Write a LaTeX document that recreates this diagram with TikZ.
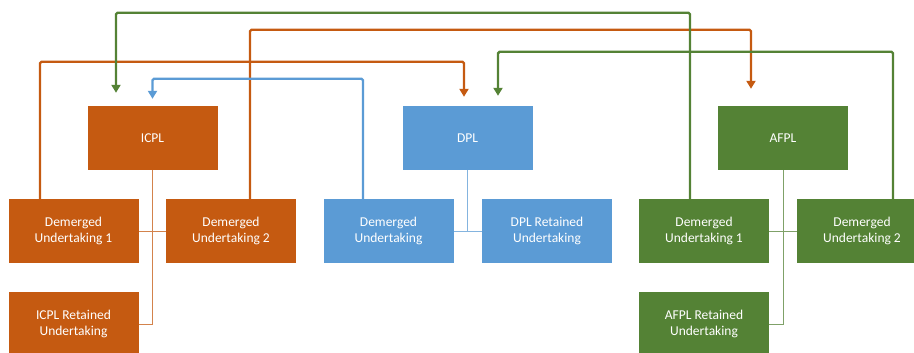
\documentclass[tikz,border=0pt]{standalone}
\usepackage{fontspec}
\setmainfont{Carlito}
\usepackage{tikz}
\usetikzlibrary{positioning,calc,arrows.meta}

\definecolor{icplorange}{HTML}{C55A11}
\definecolor{dplblue}{HTML}{5B9BD5}
\definecolor{afplgreen}{HTML}{548235}

\tikzset{
    unit/.style={rectangle, minimum width=130pt, minimum height=64pt, text=white,
        align=center, inner sep=2pt, font=\fontsize{13.5}{16.5}\selectfont},
    tree/.style={line width=0.9pt},
    flow/.style={line width=2.4pt, rounded corners=1.5pt, -{Triangle[width=9pt,length=8pt]}}
}

\begin{document}
\begin{tikzpicture}[x=1pt, y=-1pt]
        \useasboundingbox (0,0) rectangle (914,353);
        \clip (0,0) rectangle (914,353);

        % ICPL
        \begin{scope}[every node/.style={unit, fill=icplorange}]
            \node (icpl)  at (152.5,138) {ICPL};
            \node (icplA) at (73.5,231)  {Demerged\\Undertaking 1};
            \node (icplB) at (231,231)   {Demerged\\Undertaking 2};
            \node (icplR) at (73.5,324)  {ICPL Retained\\Undertaking};
        \end{scope}
        \draw[tree, icplorange!75] (icpl.south) -- (icpl.south |- icplR.east) -- (icplR.east);
        \draw[tree, icplorange!75] (icplA.east) -- (icplB.west);

        % DPL
        \begin{scope}[every node/.style={unit, fill=dplblue}]
            \node (dpl)  at (467.5,138) {DPL};
            \node (dplA) at (388.5,231) {Demerged\\Undertaking};
            \node (dplR) at (547,231)   {DPL Retained\\Undertaking};
        \end{scope}
        \draw[tree, dplblue!75] (dpl.south) -- (dpl.south |- dplR.west);
        \draw[tree, dplblue!75] (dplA.east) -- (dplR.west);

        % AFPL
        \begin{scope}[every node/.style={unit, fill=afplgreen}]
            \node (afpl)  at (783,138) {AFPL};
            \node (afplA) at (704,231) {Demerged\\Undertaking 1};
            \node (afplB) at (862,231) {Demerged\\Undertaking 2};
            \node (afplR) at (704,324) {AFPL Retained\\Undertaking};
        \end{scope}
        \draw[tree, afplgreen!75] (afpl.south) -- (afpl.south |- afplR.east) -- (afplR.east);
        \draw[tree, afplgreen!75] (afplA.east) -- (afplB.west);

        % transfers of the demerged undertakings
        \draw[flow, icplorange] ([xshift=-33.5pt]icplA.north) -- ++(0pt,137pt) -| ([xshift=-3.5pt,yshift=9pt]dpl.north);
        \draw[flow, icplorange] ([xshift=19pt]icplB.north) -- ++(0pt,169pt) -| ([xshift=-32pt,yshift=17pt]afpl.north);
        \draw[flow, dplblue] ([xshift=-25.5pt]dplA.north) -- ++(0pt,120pt) -| ([yshift=7pt]icpl.north);
        \draw[flow, afplgreen] ([xshift=31pt]afplB.north) -- ++(0pt,147pt) -| ([xshift=30.5pt,yshift=10pt]dpl.north);
        \draw[flow, afplgreen] ([xshift=-14pt]afplA.north) -- ++(0pt,186pt) -| ([xshift=-36.5pt,yshift=13pt]icpl.north);
\end{tikzpicture}
\end{document}
